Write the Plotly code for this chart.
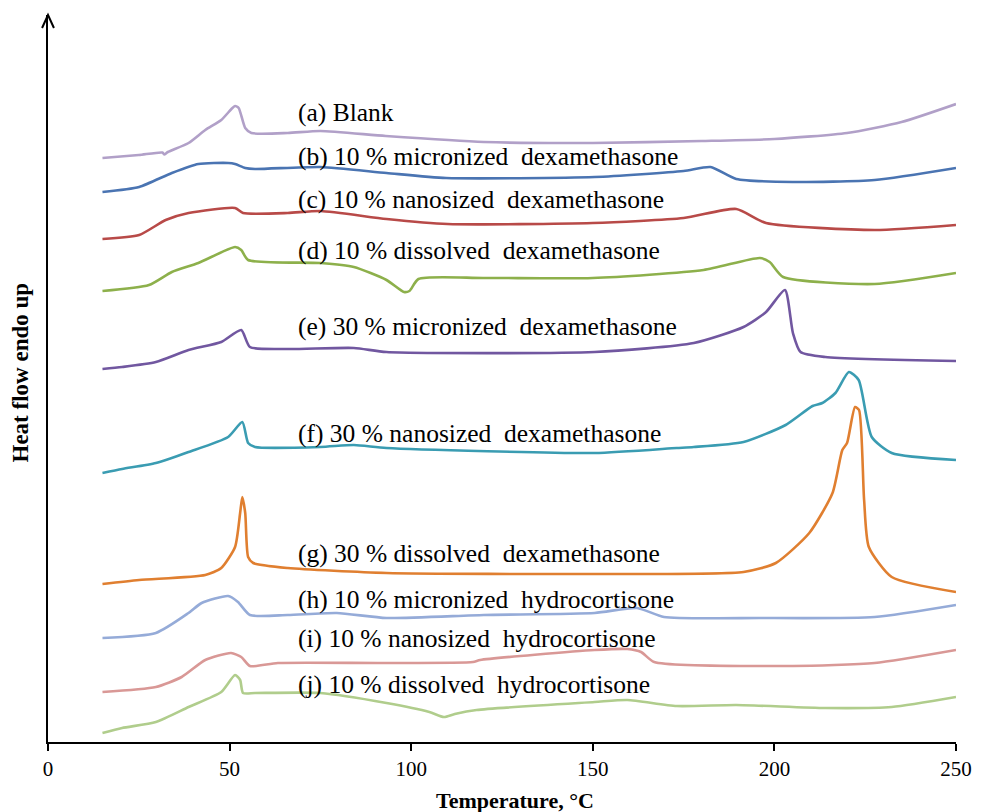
import plotly.graph_objects as go

# Temperature (°C) and heat flow (arbitrary units, offset curves) for each thermogram
T_a = [15, 25, 31.5, 32, 33, 38.7, 43.3, 47.7, 50.5, 51.5, 52.5, 54.3, 56, 66, 75, 93, 120, 150, 180, 200, 220, 235, 250]
H_a = [584, 587, 589.5, 587.5, 590, 599, 612, 622, 633, 636, 634, 614, 609, 609, 611, 606, 600, 599, 601, 603, 609, 620, 638]

T_b = [15, 25.1, 34.1, 41.4, 49.6, 51.5, 54.3, 57, 75, 93.2, 109.6, 150.5, 175, 182.4, 189.5, 205, 227.6, 250]
H_b = [550, 555, 569, 578, 579, 578, 574, 573, 575, 569, 564, 565, 571, 575, 563, 560, 562, 574]

T_c = [15, 25.1, 32.4, 38.7, 51.5, 53.7, 66, 75, 93.2, 110, 150, 175, 189.5, 197.7, 227.6, 250]
H_c = [503, 507, 522, 529, 534, 529, 529, 531, 523, 518, 519, 524, 533, 519, 512, 517]

T_d = [15, 27.8, 34.1, 41.4, 51.5, 53.2, 55.1, 75, 84.2, 93.2, 98, 99.5, 102, 120, 150, 180.5, 196, 198.7, 202.4, 227.6, 250]
H_d = [451, 457, 470, 479, 495, 492, 482, 479, 475, 462, 450, 451, 463, 464, 464, 472, 484, 480, 465, 458, 469]

T_e = [15, 20.4, 29.7, 38.7, 47.7, 53.2, 55.6, 66, 84.2, 93.2, 150.5, 177.8, 191.5, 197.7, 202.9, 205.1, 207.2, 214, 250]
H_e = [373, 375, 380, 392, 400, 412, 395, 393, 394, 390, 390, 399, 415, 430, 452, 409, 390, 385, 381]

T_f = [15, 20.4, 29.7, 38.7, 49.6, 53.5, 55.1, 57, 75, 84.2, 93.2, 150.5, 173.1, 177.8, 191.5, 203.1, 210.5, 213.2, 216.8, 220.5, 223.2, 226.8, 232.3, 250]
H_f = [269, 273, 279, 290, 305, 320, 299, 295, 295, 297, 294, 289, 294, 295, 300, 317, 336, 339, 349, 370, 362, 305, 289, 282]

T_g = [15, 25.1, 43.3, 47.7, 51.5, 52.9, 53.5, 54.3, 55.1, 56.5, 66, 93.2, 150.5, 191.5, 200.4, 209.6, 216, 218.7, 220, 222.2, 223.3, 224.7, 226, 232.3, 250]
H_g = [158, 162, 167, 174, 195, 229, 245, 229, 185, 179, 174, 169, 168, 170, 179, 209, 249, 292, 299, 335, 332, 242, 195, 165, 150]

T_h = [15, 29.7, 38.7, 42.3, 49.6, 52.3, 55.6, 66, 79.5, 93.2, 120, 150.5, 162.2, 169.6, 196, 227.6, 250]
H_h = [104, 109, 129, 139, 146, 140, 127, 127, 129, 124, 127, 129, 134, 125, 124, 125, 137]

T_i = [15, 29.7, 36.8, 43.3, 50.4, 53.2, 55.6, 63.3, 93.2, 117, 119, 150.5, 159.5, 163.3, 166.9, 205.1, 227.6, 250]
H_i = [50, 55, 65, 82, 89, 85, 76, 79, 79, 80, 82, 92, 93, 90, 80, 76, 79, 92]

T_j = [15, 20.4, 29.7, 38.7, 47.7, 51.5, 52.9, 53.7, 57, 75, 93.2, 105, 109, 112, 118, 150.5, 159.5, 173.1, 189.5, 214, 232.3, 250]
H_j = [9, 14, 20, 35, 50, 67, 62, 49, 49, 49, 39, 30, 25, 28, 32, 40, 42, 36, 37, 34, 35, 45]

labels = [
    "(a) Blank",
    "(b) 10 % micronized  dexamethasone",
    "(c) 10 % nanosized  dexamethasone",
    "(d) 10 % dissolved  dexamethasone",
    "(e) 30 % micronized  dexamethasone",
    "(f) 30 % nanosized  dexamethasone",
    "(g) 30 % dissolved  dexamethasone",
    "(h) 10 % micronized  hydrocortisone",
    "(i) 10 % nanosized  hydrocortisone",
    "(j) 10 % dissolved  hydrocortisone",
]
label_T = 68.4
label_H = [630, 586, 543, 492, 416, 309, 189, 143, 104, 58]

series = [(T_a, H_a), (T_b, H_b), (T_c, H_c), (T_d, H_d), (T_e, H_e),
          (T_f, H_f), (T_g, H_g), (T_h, H_h), (T_i, H_i), (T_j, H_j)]
colors = ["#B1A0C8", "#4A74B2", "#B84A48", "#8DB04B", "#7157A0",
          "#3A9CB2", "#E07F30", "#95ABD8", "#D99896", "#B0CD8C"]

fig = go.Figure()
for (t, h), c, name in zip(series, colors, labels):
    fig.add_trace(go.Scatter(x=t, y=h, mode="lines", name=name,
                             line=dict(color=c, width=2.6, shape="spline", smoothing=0.6),
                             hoverinfo="skip"))

serif = "Liberation Serif, Times New Roman, serif"
for txt, yv in zip(labels, label_H):
    fig.add_annotation(x=label_T, y=yv, text=txt.replace("  ", "&nbsp; "), showarrow=False,
                       xanchor="left", yanchor="middle",
                       font=dict(family=serif, size=25.5, color="black"))

# axis titles
fig.add_annotation(x=0, y=0.5, xref="paper", yref="paper", xshift=-28, yshift=6,
                   xanchor="center", yanchor="middle",
                   text="<b>Heat flow endo up</b>", textangle=-90, showarrow=False,
                   font=dict(family=serif, size=23, color="black"))
fig.add_annotation(x=128.5, y=0, xref="x", yref="paper", yshift=-58,
                   xanchor="center", yanchor="middle",
                   text="<b>Temperature, °C</b>", showarrow=False,
                   font=dict(family=serif, size=22, color="black"))

# arrow head on the y axis
fig.add_shape(type="path", xref="paper", yref="paper",
              path="M %f %f L 0 1 L %f %f" % (-6 / 917, 1 - 13 / 727, 6 / 917, 1 - 13 / 727),
              line=dict(color="black", width=2))

fig.update_layout(
    width=984, height=812,
    margin=dict(l=48, r=19, t=15, b=70),
    paper_bgcolor="white", plot_bgcolor="white",
    showlegend=False,
    xaxis=dict(range=[0, 250], tickvals=[0, 50, 100, 150, 200, 250],
               showline=True, linecolor="black", linewidth=2,
               ticks="outside", ticklen=7, tickwidth=1.5, tickcolor="black",
               showgrid=False, zeroline=False,
               tickfont=dict(family=serif, size=21, color="black")),
    yaxis=dict(range=[0, 727], showline=True, linecolor="black", linewidth=2,
               showticklabels=False, ticks="", showgrid=False, zeroline=False),
)

fig.write_html("out.html")
